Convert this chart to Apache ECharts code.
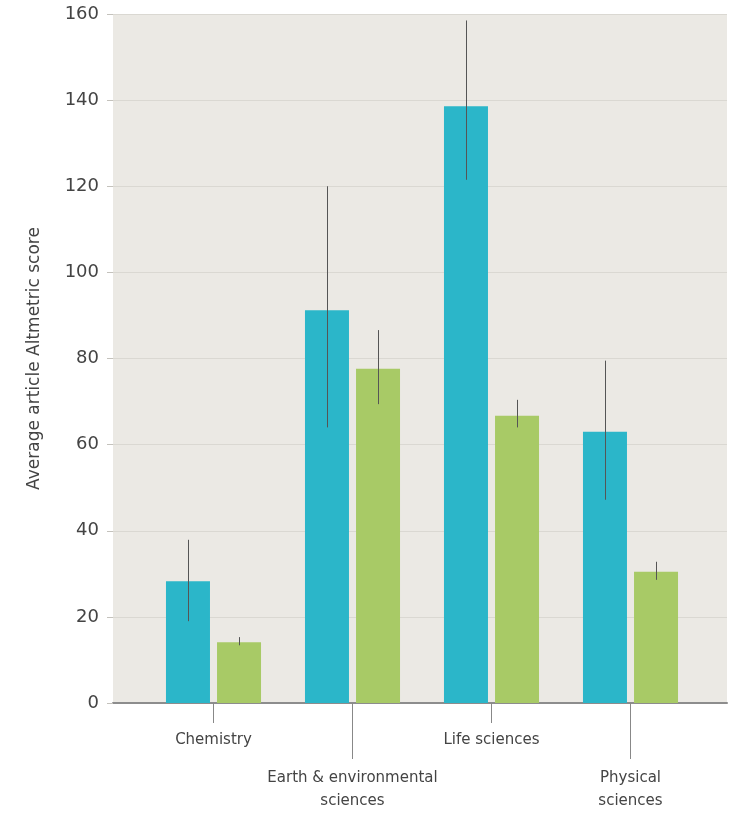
<!DOCTYPE html>
<html>
<head>
<meta charset="utf-8">
<script src="https://cdn.jsdelivr.net/npm/echarts@6/dist/echarts.min.js"></script>
<style>
html, body { margin: 0; padding: 0; background: #fff; }
#chart { width: 730px; height: 813px; }
</style>
</head>
<body>
<div id="chart"></div>
<script>
var categories = ['Chemistry', 'Earth & environmental\nsciences', 'Life sciences', 'Physical\nsciences'];
var yTicks = [0, 20, 40, 60, 80, 100, 120, 140, 160];

// teal bars
var tealValues = [28.3, 91.2, 138.6, 63];
var tealLow = [19, 64, 121.5, 47.2];
var tealHigh = [37.9, 120, 158.5, 79.5];

// green bars
var greenValues = [14.1, 77.6, 66.7, 30.5];
var greenLow = [13.4, 69.4, 64, 28.6];
var greenHigh = [15.3, 86.6, 70.4, 32.8];

var tealColor = '#2bb6c9';
var greenColor = '#a8ca66';
var textColor = '#444';

function errorSeries(low, high, side) {
    return {
        type: 'custom',
        xAxisIndex: 1,
        yAxisIndex: 1,
        z: 10,
        silent: true,
        data: low.map(function(v, i) { return [i, v, high[i]]; }),
        encode: { x: 0, y: [1, 2] },
        renderItem: function(params, api) {
            var a = api.coord([api.value(0), api.value(1)]);
            var b = api.coord([api.value(0), api.value(2)]);
            var x = Math.round(a[0] + side * 25.5) + 0.5;
            return {
                type: 'line',
                shape: { x1: x, y1: a[1], x2: x, y2: b[1] },
                style: { stroke: '#555', lineWidth: 1 }
            };
        }
    };
}

var chart = echarts.init(document.getElementById('chart'));

chart.setOption({
    animation: false,
    textStyle: { fontFamily: 'DejaVu Sans, sans-serif' },
    grid: [{
        left: 113, right: 3, top: 14, bottom: 110,
        outerBoundsMode: 'none',
        show: true, backgroundColor: '#ebe9e4', borderWidth: 0
    }, {
        left: 144, right: 30, top: 14, bottom: 110,
        outerBoundsMode: 'none'
    }],
    xAxis: [{
        gridIndex: 0,
        type: 'value',
        position: 'bottom',
        min: 0, max: 1,
        axisLine: { show: true, onZero: false, lineStyle: { color: '#8d8d8d', width: 2 } },
        axisTick: { show: false },
        axisLabel: { show: false },
        splitLine: { show: false }
    }, {
        gridIndex: 1,
        type: 'category',
        position: 'bottom',
        data: categories,
        axisLine: { show: false },
        axisTick: {
            show: true, alignWithLabel: true, length: 20,
            interval: function(i) { return i % 2 === 0; },
            lineStyle: { color: '#888' }
        },
        axisLabel: {
            interval: function(i) { return i % 2 === 0; },
            margin: 26, fontSize: 15, color: textColor, lineHeight: 23
        }
    }, {
        gridIndex: 1,
        type: 'category',
        position: 'bottom',
        offset: 0,
        data: categories,
        axisLine: { show: false },
        axisTick: {
            show: true, alignWithLabel: true, length: 56,
            interval: function(i) { return i % 2 === 1; },
            lineStyle: { color: '#888' }
        },
        axisLabel: {
            interval: function(i) { return i % 2 === 1; },
            margin: 64, fontSize: 15, color: textColor, lineHeight: 23
        }
    }],
    yAxis: [{
        gridIndex: 0,
        type: 'value',
        min: yTicks[0], max: yTicks[yTicks.length - 1], interval: 20,
        name: 'Average article Altmetric score',
        nameLocation: 'middle',
        nameGap: 70,
        nameRotate: 90,
        nameTextStyle: { fontSize: 17, color: textColor },
        axisLine: { show: false },
        axisTick: { show: true, length: 6, lineStyle: { color: '#c4c2bc' } },
        axisLabel: { fontSize: 18, color: textColor, margin: 14 },
        splitLine: { lineStyle: { color: '#dad8d2', width: 1 } }
    }, {
        gridIndex: 1,
        type: 'value',
        min: yTicks[0], max: yTicks[yTicks.length - 1],
        show: false
    }],
    series: [{
        type: 'bar',
        xAxisIndex: 1, yAxisIndex: 1,
        data: tealValues,
        barWidth: 44,
        barGap: '16%',
        itemStyle: { color: tealColor }
    }, {
        type: 'bar',
        xAxisIndex: 1, yAxisIndex: 1,
        data: greenValues,
        barWidth: 44,
        barGap: '16%',
        itemStyle: { color: greenColor }
    },
    errorSeries(tealLow, tealHigh, -1),
    errorSeries(greenLow, greenHigh, 1)]
});
</script>
</body>
</html>
